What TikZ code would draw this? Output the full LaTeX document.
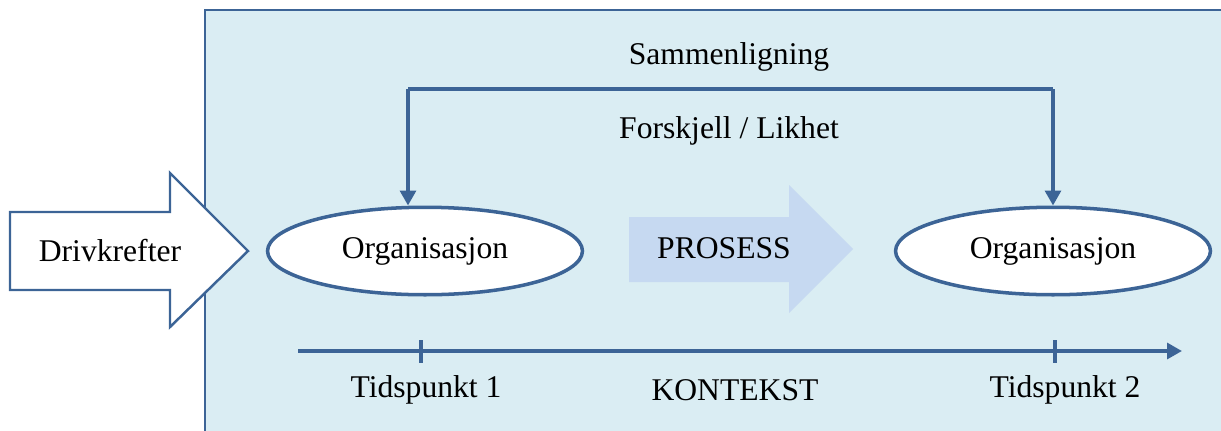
\documentclass[tikz,border=0pt]{standalone}
\usepackage{fontspec}
\setmainfont{Liberation Serif}
\usetikzlibrary{arrows.meta,shapes.geometric}

\definecolor{kantblaa}{RGB}{60,100,150}
\definecolor{bakgrunn}{RGB}{218,237,243}
\definecolor{prosessblaa}{RGB}{198,217,241}

\tikzset{
  figur/.style={
    x=0.02cm, y=-0.02cm,
    every node/.style={font=\fontsize{18}{22}\selectfont, inner sep=0pt},
    kontekst/.style={draw=kantblaa, fill=bakgrunn, line width=1.7pt},
    blokkpil/.style={draw=kantblaa, fill=white, line width=1.4pt, line join=miter},
    prosesspil/.style={fill=prosessblaa},
    org/.style={
        draw=kantblaa,
        shape=ellipse,
        fill=white,
        line width=2pt,
        minimum width=6.3cm,
        minimum height=1.75cm,
    },
    linje/.style={draw=kantblaa, line width=2pt},
    merke/.style={draw=kantblaa, line width=2.8pt},
    pil/.style={linje, -{Triangle[length=8.5pt,width=9pt]}}
  }
}

\begin{document}
\begin{tikzpicture}[figur]
        \useasboundingbox (0,0) rectangle (1221,430);
        % kontekst
        \draw[kontekst] (205,10) rectangle (1240,450);
        % drivkrefter
        \draw[blokkpil] (10,212) -- (170,212) -- (170,173) -- (248,251)
            -- (170,327) -- (170,290) -- (10,290) -- cycle;
        \node (driv) at (110,251) {Drivkrefter};
        % prosess
        \fill[prosesspil] (629,217) -- (789,217) -- (789,185) -- (853,249)
            -- (789,313) -- (789,282) -- (629,282) -- cycle;
        \node (prosess) at (724,248) {PROSESS};
        % organisasjoner
        \node[org] (org1) at (425,251) {Organisasjon};
        \node[org] (org2) at (1053,251) {Organisasjon};
        % sammenligning
        \coordinate (venstre) at (408,89);
        \coordinate (hoyre) at (1053,89);
        \draw[linje] (hoyre) -- (venstre);
        \draw[pil] (venstre) -- (org1.north -| venstre);
        \draw[pil] (hoyre) -- (org2.north);
        \node (sam) at (729,57) {Sammenligning};
        \node (forskjell) at (729,131) {Forskjell / Likhet};
        % tidslinje
        \coordinate (start) at (298,351);
        \coordinate (slutt) at (1182,351);
        \draw[pil] (start) -- (slutt);
        \coordinate (t1) at (421,351);
        \coordinate (t2) at (1055,351);
        \draw[merke] (t1) ++(0,-11) -- ++(0,23);
        \draw[merke] (t2) ++(0,-11) -- ++(0,23);
        \node (tid1) at (426,390) {Tidspunkt 1};
        \node (kontekst) at (735,390) {KONTEKST};
        \node (tid2) at (1065,390) {Tidspunkt 2};
\end{tikzpicture}
\end{document}
